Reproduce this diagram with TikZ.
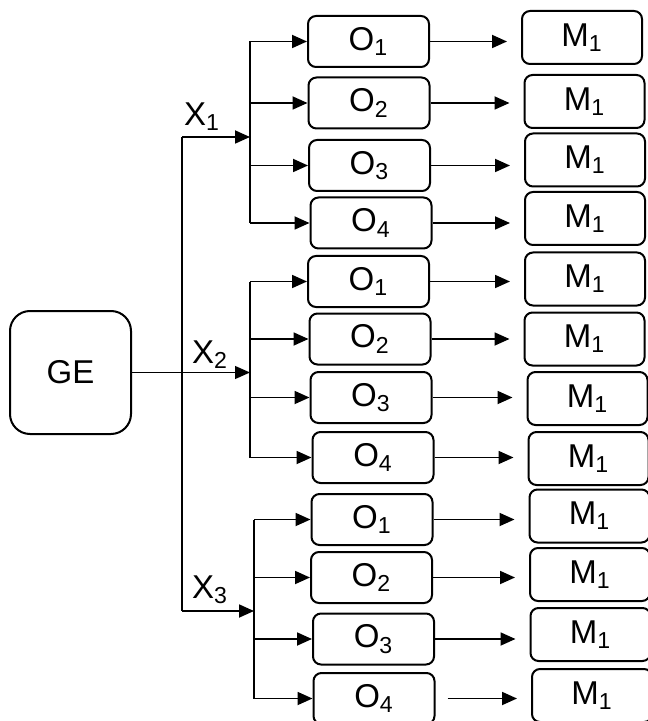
\documentclass[tikz,border=0pt]{standalone}
\usepackage{fontspec}
\setmainfont{Liberation Sans}
\usetikzlibrary{arrows.meta}
\tikzstyle{box}=[draw, rounded corners=4pt, line width=1pt, inner sep=0pt, font=\fontsize{16.5}{19}\selectfont]
\tikzstyle{obox}=[box, minimum width=60.5pt, minimum height=25.5pt]
\tikzstyle{mbox}=[box, minimum width=60pt, minimum height=26.5pt]
\tikzstyle{gebox}=[box, rounded corners=10pt, minimum width=60.5pt, minimum height=61.5pt]
\tikzstyle{lbl}=[inner sep=0pt, font=\fontsize{16.5}{19}\selectfont]
\tikzstyle{wire}=[line width=0.6pt]
\tikzstyle{arr}=[line width=0.9pt, -{Triangle[length=7.5pt,width=6.5pt]}]
\tikzstyle{marr}=[arr, shorten >=7pt]

\begin{document}
\begin{tikzpicture}[x=0.5pt, y=-0.5pt]
			\useasboundingbox (0,0) rectangle (647,721);

			%%% Source
			\node[gebox]   (ge) at ( 70.5, 372.5) {GE};
			\coordinate    (t1) at (182.0, 137.0);
			\coordinate    (t3) at (182.0, 611.0);
			\coordinate    (b1) at (250.0,   0.0);
			\coordinate    (b2) at (250.0,   0.0);
			\coordinate    (b3) at (254.0,   0.0);

			%%% Group 1
			\node[obox]   (o11) at (368.5,  41.5) {O\textsubscript{1}};
			\node[obox]   (o12) at (369.0, 103.0) {O\textsubscript{2}};
			\node[obox]   (o13) at (369.5, 165.5) {O\textsubscript{3}};
			\node[obox]   (o14) at (371.0, 223.0) {O\textsubscript{4}};
			\node[mbox]   (m11) at (582.0,  37.5) {M\textsubscript{1}};
			\node[mbox]   (m12) at (584.5, 101.5) {M\textsubscript{1}};
			\node[mbox]   (m13) at (585.0, 160.0) {M\textsubscript{1}};
			\node[mbox]   (m14) at (585.0, 218.5) {M\textsubscript{1}};

			%%% Group 2
			\node[obox]   (o21) at (368.5, 281.5) {O\textsubscript{1}};
			\node[obox]   (o22) at (370.0, 339.0) {O\textsubscript{2}};
			\node[obox]   (o23) at (371.0, 397.5) {O\textsubscript{3}};
			\node[obox]   (o24) at (373.0, 457.5) {O\textsubscript{4}};
			\node[mbox]   (m21) at (585.0, 279.0) {M\textsubscript{1}};
			\node[mbox]   (m22) at (584.5, 339.0) {M\textsubscript{1}};
			\node[mbox]   (m23) at (587.5, 398.5) {M\textsubscript{1}};
			\node[mbox]   (m24) at (588.5, 458.5) {M\textsubscript{1}};

			%%% Group 3
			\node[obox]   (o31) at (372.0, 519.5) {O\textsubscript{1}};
			\node[obox]   (o32) at (371.5, 577.5) {O\textsubscript{2}};
			\node[obox]   (o33) at (373.5, 639.0) {O\textsubscript{3}};
			\node[obox]   (o34) at (374.0, 698.5) {O\textsubscript{4}};
			\node[mbox]   (m31) at (589.5, 516.0) {M\textsubscript{1}};
			\node[mbox]   (m32) at (590.0, 574.5) {M\textsubscript{1}};
			\node[mbox]   (m33) at (590.5, 634.5) {M\textsubscript{1}};
			\node[mbox]   (m34) at (592.0, 695.5) {M\textsubscript{1}};

			%%% Trunk
			\draw[wire] (t1) -- (t3);
			\draw[arr] (t1) -- (t1 -| b1);
			\draw[arr, line width=0.6pt] (ge.east) -- (ge.east -| b2);
			\draw[arr] (t3) -- (t3 -| b3);
			\node[lbl] (x1) at (202, 117) {X\textsubscript{1}};
			\node[lbl] (x2) at (210, 355) {X\textsubscript{2}};
			\node[lbl] (x3) at (210, 590) {X\textsubscript{3}};

			%%% Buses
			\draw[wire] (b1 |- o11.west) -- (b1 |- o14.west);
			\draw[wire] (b2 |- o21.west) -- (b2 |- o24.west);
			\draw[wire] (b3 |- o31.west) -- (b3 |- o34.west);
			\draw[arr] (b1 |- o11.west) -- (o11.west);
			\draw[arr] (b1 |- o12.west) -- (o12.west);
			\draw[arr] (b1 |- o13.west) -- (o13.west);
			\draw[arr] (b1 |- o14.west) -- (o14.west);
			\draw[arr] (b2 |- o21.west) -- (o21.west);
			\draw[arr] (b2 |- o22.west) -- (o22.west);
			\draw[arr] (b2 |- o23.west) -- (o23.west);
			\draw[arr] (b2 |- o24.west) -- (o24.west);
			\draw[arr] (b3 |- o31.west) -- (o31.west);
			\draw[arr] (b3 |- o32.west) -- (o32.west);
			\draw[arr] (b3 |- o33.west) -- (o33.west);
			\draw[arr] (b3 |- o34.west) -- (o34.west);

			%%% O to M
			\draw[marr] (o11.east) -- (o11.east -| m11.west);
			\draw[marr] (o12.east) -- (o12.east -| m12.west);
			\draw[marr] (o13.east) -- (o13.east -| m13.west);
			\draw[marr] (o14.east) -- (o14.east -| m14.west);
			\draw[marr] (o21.east) -- (o21.east -| m21.west);
			\draw[marr] (o22.east) -- (o22.east -| m22.west);
			\draw[marr] (o23.east) -- (o23.east -| m23.west);
			\draw[marr] (o24.east) -- (o24.east -| m24.west);
			\draw[marr] (o31.east) -- (o31.east -| m31.west);
			\draw[marr] (o32.east) -- (o32.east -| m32.west);
			\draw[marr] (o33.east) -- (o33.east -| m33.west);
			\draw[marr, shorten <=6pt] (o34.east) -- (o34.east -| m34.west);
\end{tikzpicture}
\end{document}
